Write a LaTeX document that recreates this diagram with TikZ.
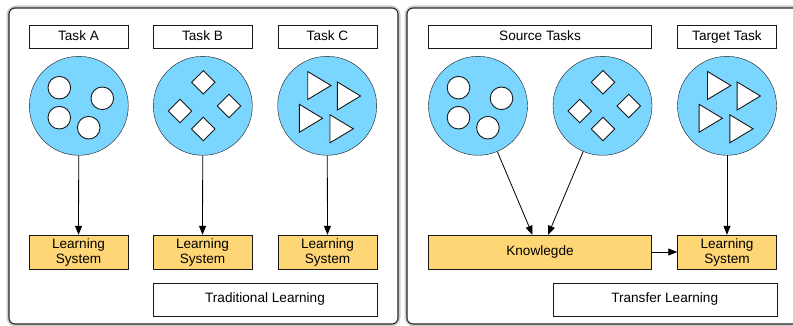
\documentclass[tikz,border=0pt]{standalone}
\usepackage{fontspec}
\setmainfont{Liberation Sans}
\usetikzlibrary{arrows.meta,positioning}

\definecolor{taskblue}{RGB}{122,213,255}
\definecolor{learnorange}{RGB}{255,214,118}

\tikzset{
    panel/.style={draw=black!85, fill=white, line width=1.1pt, rounded corners=6pt},
    halo/.style={draw=black!20, line width=5pt, rounded corners=7pt},
    boxbase/.style={draw=black!90, minimum width=99pt, inner sep=0pt,
        font=\fontsize{13.6}{15}\selectfont},
    labelbox/.style={boxbase, fill=white, minimum height=23pt, text height=9.8pt, text depth=2.9pt},
    systembox/.style={boxbase, fill=learnorange, align=center, minimum height=34pt},
    taskcircle/.style={draw=black!90, circle, fill=taskblue, minimum size=99pt, inner sep=0pt},
    item/.style={draw=black!90, fill=white, line width=0.9pt},
    link/.style={-{Triangle[length=9pt,width=7pt]}, line width=0.8pt}
}

\begin{document}
\begin{tikzpicture}[x=1pt, y=-1pt]
\useasboundingbox (0,0) rectangle (793,326);

% panels
\draw[halo] (9,8) rectangle (398,324);
\draw[halo] (407,8) rectangle (805,324);
\draw[panel] (9,8) rectangle (398,324);
\draw[panel] (407,8) rectangle (805,324);

% traditional learning
\node[labelbox] (taskA) at (78.5,36.7) {Task A};
\node[labelbox] (taskB) at (202.5,36.7) {Task B};
\node[labelbox] (taskC) at (327.5,36.7) {Task C};

\node[taskcircle] (circA) at (78.8,105.8) {};
\node[taskcircle] (circB) at (202.8,105.8) {};
\node[taskcircle] (circC) at (327.2,105.8) {};

\node[systembox] (sysA) at (78.5,252) {Learning\\System};
\node[systembox] (sysB) at (202.5,252) {Learning\\System};
\node[systembox] (sysC) at (327.5,252) {Learning\\System};

\node[labelbox, minimum width=224pt, minimum height=33pt] (trad) at (265,299.2) {Traditional Learning};

% transfer learning
\node[labelbox, minimum width=223pt] (source) at (540,36.7) {Source Tasks};
\node[labelbox] (target) at (727,36.7) {Target Task};

\node[taskcircle] (srcA) at (478,105.8) {};
\node[taskcircle] (srcB) at (602.5,105.8) {};
\node[taskcircle] (tgtC) at (727,105.8) {};

\node[systembox, minimum width=223pt] (know) at (540,252) {Knowlegde};
\node[systembox] (sysT) at (727,252) {Learning\\System};

\node[labelbox, minimum width=224pt, minimum height=33pt] (transfer) at (664.7,299.2) {Transfer Learning};

% contents of the circles
\foreach \c in {circA,srcA}
    \foreach \dx/\dy in {-19.5/-18.1, 23.5/-7.5, -19.5/11.9, 9.9/21.9}
        \draw[item] ([shift={(\dx,\dy)}]\c.center) circle (11.3);
\foreach \c in {circB,srcB}
    \foreach \dx/\dy in {0.5/-23.5, -22.8/5.2, 26.2/0.2, 0.5/23.2}
        \draw[item] ([shift={(\dx,\dy)}]\c.center) ++(0,-11.7) -- ++(11.7,11.7)
            -- ++(-11.7,11.7) -- ++(-11.7,-11.7) -- cycle;
\foreach \c in {circC,tgtC}
    \foreach \dx/\dy in {-19.5/-20.3, 10.1/-9.8, -27.9/12.5, 2.8/23}
        \draw[item] ([shift={(\dx,\dy)}]\c.center) ++(0,-14) -- ++(23.3,14)
            -- ++(-23.3,14) -- cycle;

% arrows
\draw[link] (circA) -- (sysA);
\draw[link] (circB) -- (sysB);
\draw[link] (circC) -- (sysC);
\draw[link] (srcA) -- ([xshift=-7.5pt]know.north);
\draw[link] (srcB) -- ([xshift=8pt]know.north);
\draw[link] (tgtC) -- (sysT);
\draw[link] (know) -- (sysT);
\end{tikzpicture}
\end{document}
